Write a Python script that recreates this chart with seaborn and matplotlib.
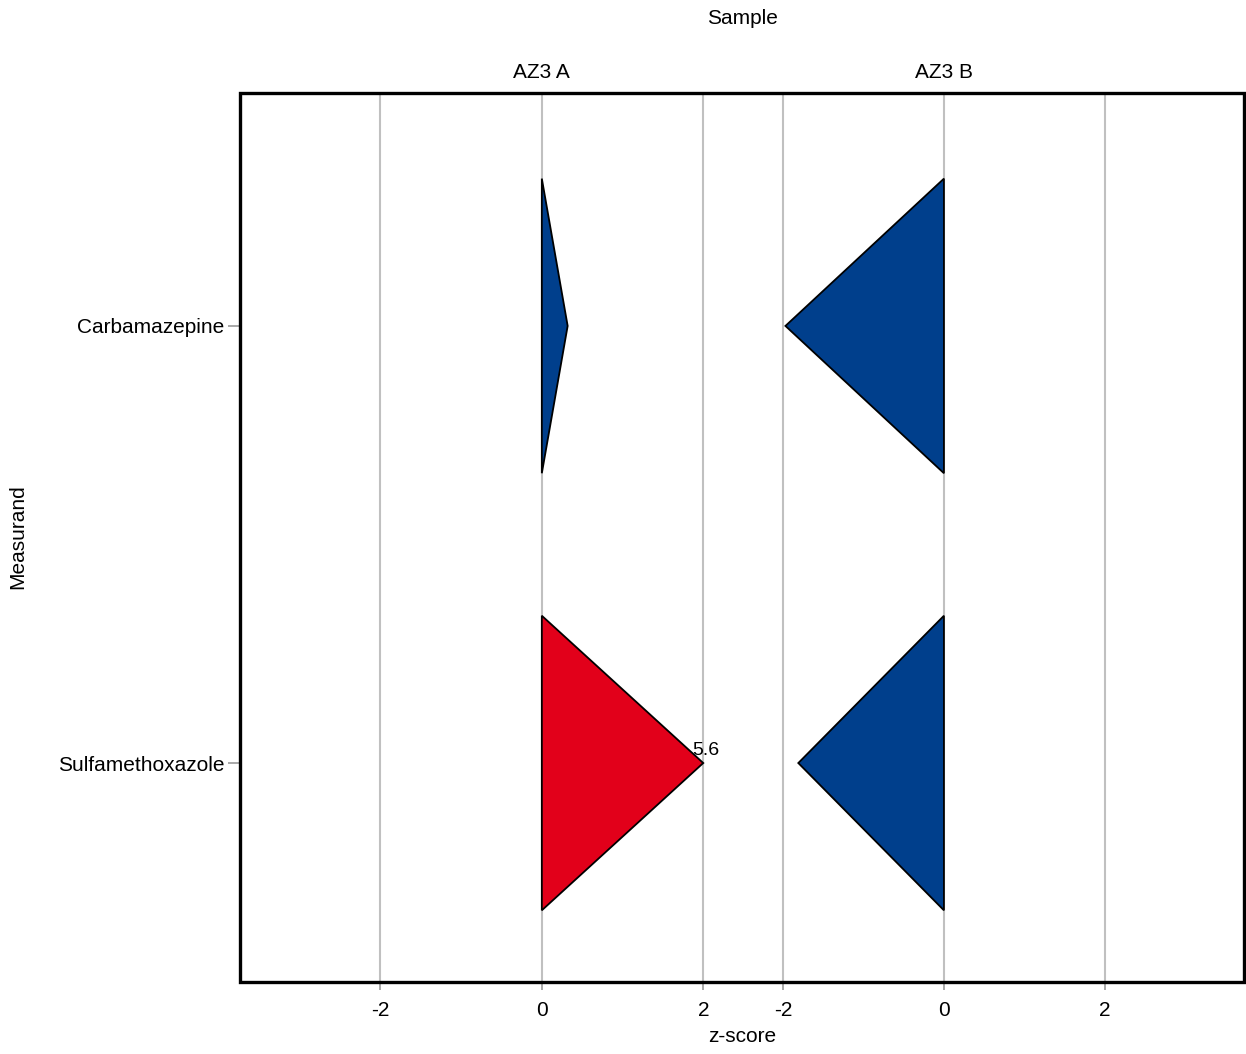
import numpy as np
import pandas as pd
import matplotlib
matplotlib.use('Agg')
import matplotlib.pyplot as plt
import seaborn as sns

samples = ['AZ3 A', 'AZ3 A', 'AZ3 B', 'AZ3 B']
measurands = ['Carbamazepine', 'Sulfamethoxazole', 'Carbamazepine', 'Sulfamethoxazole']
zscores = [0.32, 5.6, -1.97, -1.81]
clip_limit = 2
blue = '#003f8c'
red = '#e2001a'
ticks = [-2, 0, 2]
xlims = {'AZ3 A': (-3.74, 2.48), 'AZ3 B': (-2.51, 3.73)}
categories = ['Carbamazepine', 'Sulfamethoxazole']

df = pd.DataFrame({'Sample': samples, 'Measurand': measurands, 'z': zscores})
df['ypos'] = df['Measurand'].map({c: i for i, c in enumerate(categories)})

sns.set_theme(style='white')
plt.rcParams['font.family'] = ['Liberation Sans', 'DejaVu Sans']
plt.rcParams['font.size'] = 15
plt.rcParams['text.color'] = 'black'
plt.rcParams['xtick.labelcolor'] = 'black'
plt.rcParams['ytick.labelcolor'] = 'black'

g = sns.FacetGrid(df, col='Sample', col_order=['AZ3 A', 'AZ3 B'], sharex=False, sharey=True)

half = 0.337


def triangles(data, **kws):
    ax = plt.gca()
    for _, r in data.iterrows():
        z = float(np.clip(r['z'], -clip_limit, clip_limit))
        col = red if abs(r['z']) > clip_limit else blue
        y = r['ypos']
        ax.fill([0, z, 0], [y - half, y, y + half], facecolor=col, edgecolor='black',
                linewidth=1.3, zorder=3)
        if abs(r['z']) > clip_limit:
            ax.text(z + 0.03, y - 0.01, f"{r['z']:.1f}", ha='center', va='bottom',
                    fontsize=14, color='black', zorder=4)


g.map_dataframe(triangles)

for ax, name in zip(g.axes.flat, ['AZ3 A', 'AZ3 B']):
    ax.set_xlim(*xlims[name])
    ax.set_ylim(1.501, -0.533)
    ax.set_xticks(ticks)
    ax.set_xticklabels([str(t) for t in ticks], fontsize=15, color='black')
    ax.grid(axis='x', color='#c0c0c0', linewidth=1.5, zorder=0)
    ax.set_axisbelow(True)
    for s in ax.spines.values():
        s.set_visible(False)
    ax.tick_params(axis='x', bottom=True, length=6, width=1.2, color='#999999', pad=8)
    ax.set_title('')
    ax.set_xlabel('')
    ax.set_ylabel('')
    ax.text(0, 1.012, name, transform=ax.get_xaxis_transform(), ha='center',
            va='bottom', fontsize=15, color='black')

ax0 = g.axes.flat[0]
ax0.set_yticks(range(len(categories)))
ax0.set_yticklabels(categories, fontsize=15, color='black')
ax0.tick_params(axis='y', left=True, length=9, width=1.2, color='#999999', pad=2)
g.axes.flat[1].tick_params(axis='y', left=False)

g.figure.set_size_inches(12.46, 10.54)
g.figure.subplots_adjust(left=0.1926, right=0.9984, top=0.9118, bottom=0.0683, wspace=0)

# outer frame around both panels
frame = plt.Rectangle((0.1926, 0.0683), 0.9984 - 0.1926, 0.9118 - 0.0683,
                      transform=g.figure.transFigure, fill=False, edgecolor='black',
                      linewidth=2.4, zorder=10)
g.figure.add_artist(frame)

g.figure.text(0.5955, 1 - 18 / 1054, 'Sample', ha='center', va='center', fontsize=15, color='black')
g.figure.text(0.5955, 1 - 1037 / 1054, 'z-score', ha='center', va='center', fontsize=15, color='black')
g.figure.text(18 / 1246, 1 - 537 / 1054, 'Measurand', ha='center', va='center',
              rotation=90, fontsize=15, color='black')

g.figure.savefig('out.png', dpi=100)
